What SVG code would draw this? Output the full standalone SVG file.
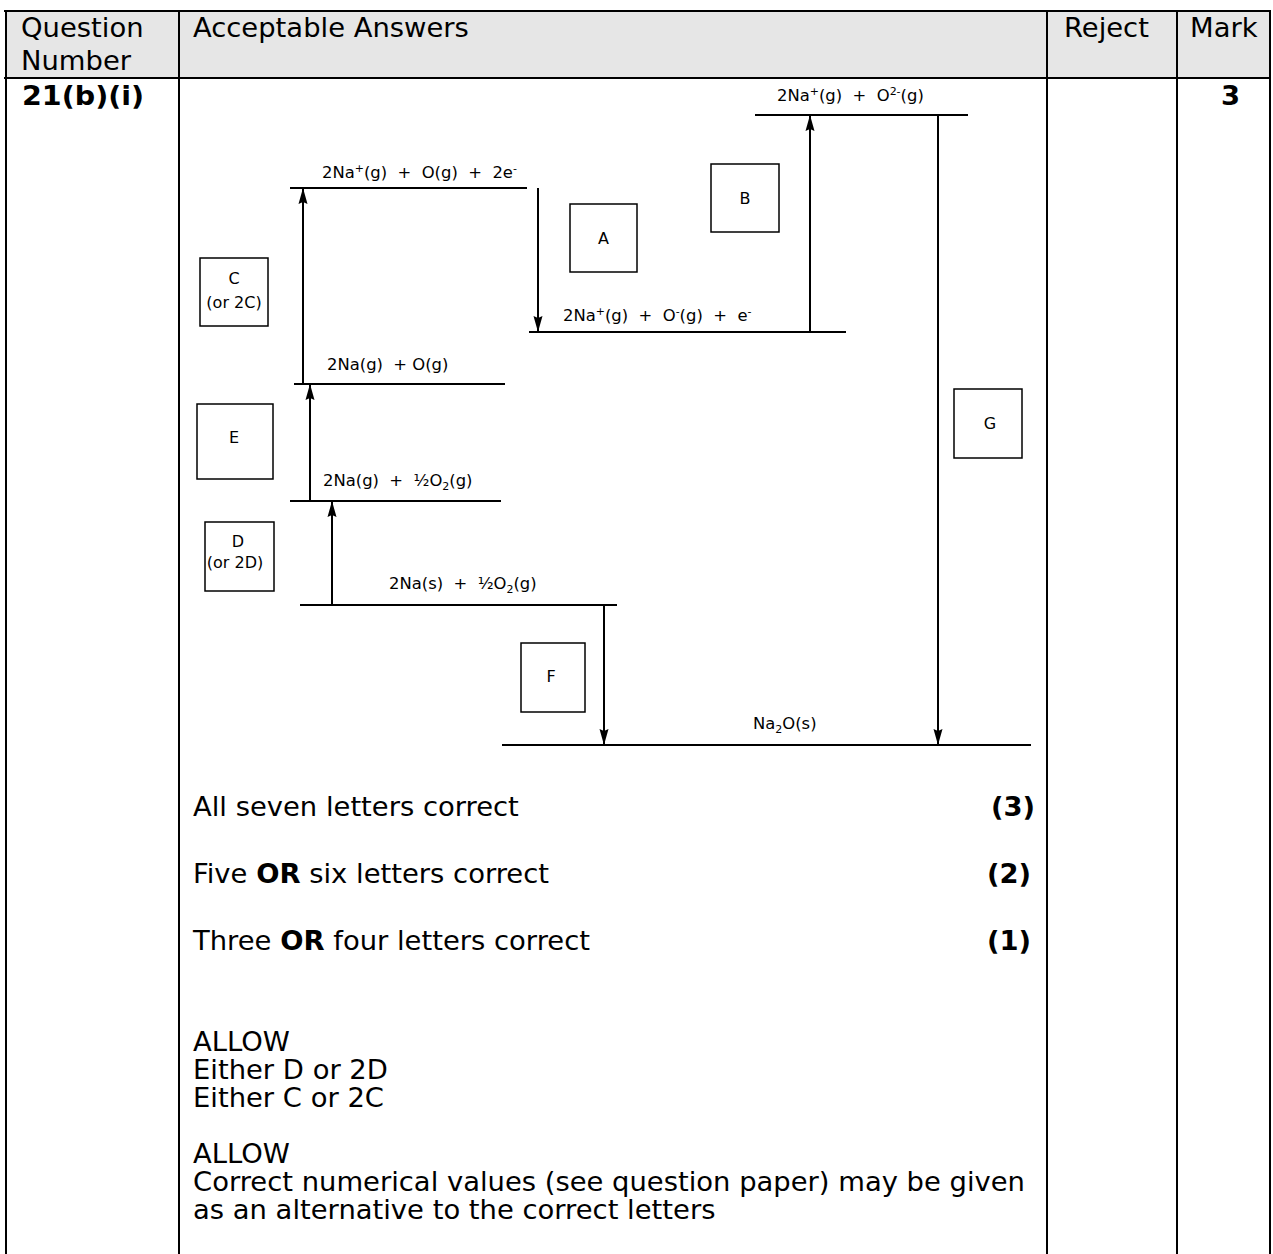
<svg xmlns="http://www.w3.org/2000/svg" width="1273" height="1254" viewBox="0 0 1273 1254">
<defs>
<marker id="ah" viewBox="0 0 16 10" refX="16" refY="5" markerWidth="16" markerHeight="10" markerUnits="userSpaceOnUse" orient="auto">
<path d="M0,0.5 L16,5 L0,9.5 L2,5 Z" fill="#000"/>
</marker>
<style>
.grid{stroke:#000;stroke-width:2;fill:none}
.lvl{stroke:#000;stroke-width:2}
.arr{stroke:#000;stroke-width:2;fill:none}
.box{fill:#fff;stroke:#000;stroke-width:1.5}
.t{font-family:"DejaVu Sans",Verdana,sans-serif;font-size:27.4px;fill:#000}
.b{font-weight:bold}
.lab{font-family:"DejaVu Sans",Verdana,sans-serif;font-size:16.4px;fill:#000}
.sup{font-size:11px}
.bl{font-family:"DejaVu Sans",Verdana,sans-serif;font-size:16px;fill:#000;text-anchor:middle}
</style>
</defs>
<g id="table">
<rect x="5" y="11" width="1265" height="67" fill="#e6e6e6"/>
<line class="grid" x1="4" y1="11" x2="1271" y2="11"/>
<line class="grid" x1="4" y1="78" x2="1271" y2="78"/>
<line class="grid" x1="6" y1="10" x2="6" y2="1254"/>
<line class="grid" x1="179" y1="10" x2="179" y2="1254"/>
<line class="grid" x1="1047" y1="10" x2="1047" y2="1254"/>
<line class="grid" x1="1177" y1="10" x2="1177" y2="1254"/>
<line class="grid" x1="1270" y1="10" x2="1270" y2="1254"/>
<text class="t" x="21" y="37">Question</text>
<text class="t" x="21" y="70">Number</text>
<text class="t" x="193" y="37">Acceptable Answers</text>
<text class="t" x="1064" y="37">Reject</text>
<text class="t" x="1190" y="37">Mark</text>
<text class="t b" x="22" y="105" textLength="122" lengthAdjust="spacingAndGlyphs">21(b)(i)</text>
<text class="t b" x="1221" y="105">3</text>
</g>
<g id="connectors">
<line class="arr" x1="810" y1="332" x2="810" y2="115" marker-end="url(#ah)"/>
<line class="arr" x1="938" y1="115" x2="938" y2="745" marker-end="url(#ah)"/>
<line class="arr" x1="303" y1="384" x2="303" y2="188" marker-end="url(#ah)"/>
<line class="arr" x1="538" y1="188" x2="538" y2="332" marker-end="url(#ah)"/>
<line class="arr" x1="310" y1="501" x2="310" y2="384" marker-end="url(#ah)"/>
<line class="arr" x1="332" y1="605" x2="332" y2="501" marker-end="url(#ah)"/>
<line class="arr" x1="604" y1="605" x2="604" y2="745" marker-end="url(#ah)"/>
</g>
<g id="lvl-top">
<line class="lvl" x1="755" y1="115" x2="968" y2="115"/>
<text class="lab" x="777" y="101" xml:space="preserve">2Na<tspan class="sup" dy="-6">+</tspan><tspan dy="6">(g)  +  O</tspan><tspan class="sup" dy="-6">2-</tspan><tspan dy="6">(g)</tspan></text>
</g>
<g id="lvl-ion">
<line class="lvl" x1="290" y1="188" x2="527" y2="188"/>
<text class="lab" x="322" y="178" xml:space="preserve">2Na<tspan class="sup" dy="-6">+</tspan><tspan dy="6">(g)  +  O(g)  +  2e</tspan><tspan class="sup" dy="-6">-</tspan></text>
</g>
<g id="lvl-oneg">
<line class="lvl" x1="529" y1="332" x2="846" y2="332"/>
<text class="lab" x="563" y="321" xml:space="preserve">2Na<tspan class="sup" dy="-6">+</tspan><tspan dy="6">(g)  +  O</tspan><tspan class="sup" dy="-6">-</tspan><tspan dy="6">(g)  +  e</tspan><tspan class="sup" dy="-6">-</tspan></text>
</g>
<g id="lvl-atoms">
<line class="lvl" x1="294" y1="384" x2="505" y2="384"/>
<text class="lab" x="327" y="370" xml:space="preserve">2Na(g)  + O(g)</text>
</g>
<g id="lvl-nag">
<line class="lvl" x1="290" y1="501" x2="501" y2="501"/>
<text class="lab" x="323" y="486" xml:space="preserve">2Na(g)  +  ½O<tspan class="sup" dy="4">2</tspan><tspan dy="-4">(g)</tspan></text>
</g>
<g id="lvl-nas">
<line class="lvl" x1="300" y1="605" x2="617" y2="605"/>
<text class="lab" x="389" y="589" xml:space="preserve">2Na(s)  +  ½O<tspan class="sup" dy="4">2</tspan><tspan dy="-4">(g)</tspan></text>
</g>
<g id="lvl-na2o">
<line class="lvl" x1="502" y1="745" x2="1031" y2="745"/>
<text class="lab" x="753" y="729">Na<tspan class="sup" dy="4">2</tspan><tspan dy="-4">O(s)</tspan></text>
</g>
<g id="box-A"><rect class="box" x="570" y="204" width="67" height="68"/><text class="bl" x="603.5" y="244">A</text></g>
<g id="box-B"><rect class="box" x="711" y="164" width="68" height="68"/><text class="bl" x="745" y="204">B</text></g>
<g id="box-C"><rect class="box" x="200" y="258" width="68" height="68"/><text class="bl" x="234" y="284">C</text><text class="bl" x="234" y="308">(or 2C)</text></g>
<g id="box-E"><rect class="box" x="197" y="404" width="76" height="75"/><text class="bl" x="234" y="443">E</text></g>
<g id="box-D"><rect class="box" x="205" y="522" width="69" height="69"/><text class="bl" x="238" y="547">D</text><text class="bl" x="235" y="568">(or 2D)</text></g>
<g id="box-F"><rect class="box" x="521" y="643" width="64" height="69"/><text class="bl" x="551" y="682">F</text></g>
<g id="box-G"><rect class="box" x="954" y="389" width="68" height="69"/><text class="bl" x="990" y="429">G</text></g>
<g id="answers">
<text class="t" x="193" y="816">All seven letters correct</text>
<text class="t b" x="1035" y="816" text-anchor="end">(3)</text>
<text class="t" x="193" y="883">Five <tspan class="b">OR</tspan> six letters correct</text>
<text class="t b" x="1031" y="883" text-anchor="end">(2)</text>
<text class="t" x="193" y="950">Three <tspan class="b">OR</tspan> four letters correct</text>
<text class="t b" x="1031" y="950" text-anchor="end">(1)</text>
<text class="t" x="193" y="1051">ALLOW</text>
<text class="t" x="193" y="1079">Either D or 2D</text>
<text class="t" x="193" y="1107">Either C or 2C</text>
<text class="t" x="193" y="1163">ALLOW</text>
<text class="t" x="193" y="1191">Correct numerical values (see question paper) may be given</text>
<text class="t" x="193" y="1219">as an alternative to the correct letters</text>
</g>
</svg>
